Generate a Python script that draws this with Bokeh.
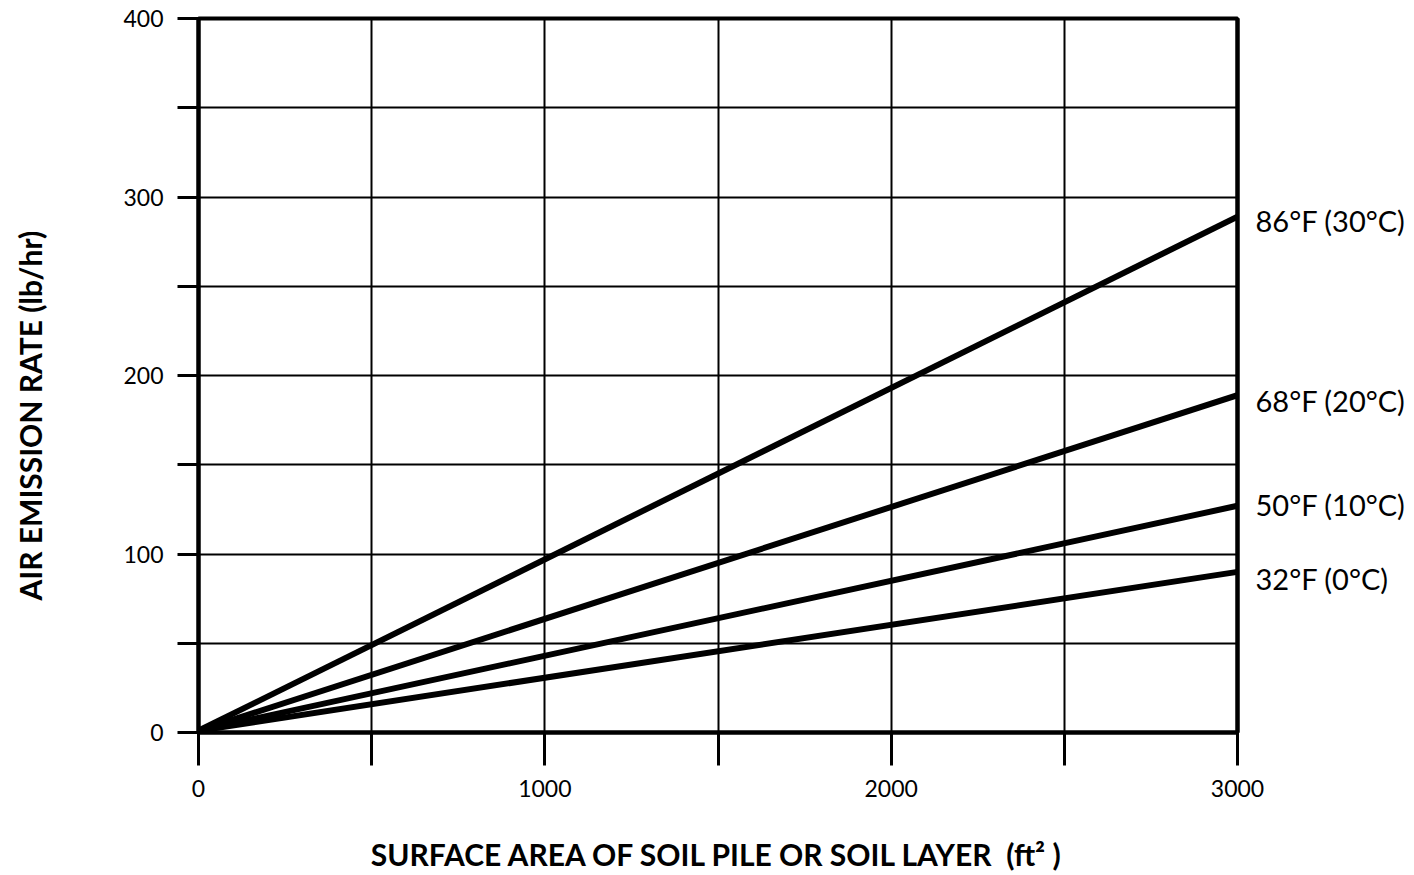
from bokeh.plotting import figure
from bokeh.models import Range1d, FixedTicker, LinearAxis
from bokeh.embed import file_html
from bokeh.resources import INLINE

# Data
area = [0, 3000]
rate_86F = [1, 289]
rate_68F = [1, 189]
rate_50F = [1, 127]
rate_32F = [1, 90]
series = [rate_86F, rate_68F, rate_50F, rate_32F]
series_labels = ["86°F (30°C)", "68°F (20°C)", "50°F (10°C)", "32°F (0°C)"]
label_y = [287, 186, 128, 86]

y_ticks = [0, 50, 100, 150, 200, 250, 300, 350, 400]
y_tick_labels = {50: "", 150: "", 250: "", 350: ""}
x_ticks = [0, 500, 1000, 1500, 2000, 2500, 3000]
x_tick_labels = {500: "", 1500: "", 2500: ""}

FONT = "Lato"
TICK_FONT = "Lato"
NBSP = "\u00a0"

p = figure(frame_width=1039, frame_height=714,
           x_range=Range1d(0, 3000), y_range=Range1d(0, 400),
           output_backend="svg", toolbar_location=None,
           min_border_left=198, min_border_top=18,
           min_border_right=170, min_border_bottom=140)
p.background_fill_color = "white"
p.border_fill_color = "white"
p.outline_line_color = "black"
p.outline_line_width = 4

# grids
p.xgrid.ticker = FixedTicker(ticks=x_ticks)
p.ygrid.ticker = FixedTicker(ticks=y_ticks)
for g in (p.xgrid, p.ygrid):
    g.grid_line_color = "black"
    g.grid_line_width = 2
    g.grid_line_alpha = 1.0

# x axis
xa = p.xaxis[0]
xa.ticker = FixedTicker(ticks=x_ticks)
xa.major_label_overrides = x_tick_labels
xa.major_tick_out = 33
xa.major_tick_in = 0
xa.minor_tick_out = 0
xa.minor_tick_in = 0
xa.major_tick_line_width = 3
xa.axis_line_width = 4
xa.major_label_standoff = 14
xa.major_label_text_font = TICK_FONT
xa.major_label_text_font_size = "23px"
xa.major_label_text_color = "black"
xa.axis_label = "SURFACE AREA OF SOIL PILE OR SOIL LAYER" + NBSP * 2 + "(ft² )"
xa.axis_label_text_font = FONT
xa.axis_label_text_font_style = "bold"
xa.axis_label_text_font_size = "30px"
xa.axis_label_standoff = 36
xa.axis_label_text_color = "black"

# y axis
ya = p.yaxis[0]
ya.ticker = FixedTicker(ticks=y_ticks)
ya.major_label_overrides = y_tick_labels
ya.major_tick_out = 21
ya.major_tick_in = 0
ya.minor_tick_out = 0
ya.minor_tick_in = 0
ya.major_tick_line_width = 3
ya.axis_line_width = 4
ya.major_label_standoff = 14
ya.major_label_text_font = TICK_FONT
ya.major_label_text_font_size = "23px"
ya.major_label_text_color = "black"
ya.axis_label = "AIR EMISSION RATE (lb/hr)" + NBSP * 11
ya.axis_label_text_font = FONT
ya.axis_label_text_font_style = "bold"
ya.axis_label_text_font_size = "30px"
ya.axis_label_standoff = 72
ya.axis_label_text_color = "black"

# right axis carrying the series labels
ra = LinearAxis(ticker=FixedTicker(ticks=label_y),
                major_label_overrides={y: s for y, s in zip(label_y, series_labels)})
ra.major_tick_out = 0
ra.major_tick_in = 0
ra.minor_tick_out = 0
ra.minor_tick_in = 0
ra.axis_line_width = 4
ra.major_label_standoff = 18
ra.major_label_text_font = FONT
ra.major_label_text_font_size = "29px"
ra.major_label_text_color = "black"
p.add_layout(ra, "right")

for s in series:
    p.line(area, s, line_color="black", line_width=6)

open("out.html", "w").write(file_html(p, INLINE))
